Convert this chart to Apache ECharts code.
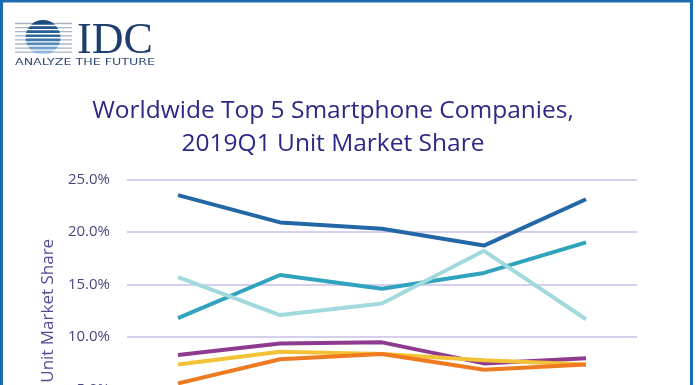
<!DOCTYPE html>
<html>
<head>
<meta charset="utf-8">
<script src="https://cdn.jsdelivr.net/npm/echarts@6/dist/echarts.min.js"></script>
<style>html,body{margin:0;padding:0;background:#fff;}#c{width:696px;height:385px;}</style>
</head>
<body>
<div id="c"></div>
<script>
// ---- data ----
const quarters = ['1Q18', '2Q18', '3Q18', '4Q18', '1Q19'];
const companyNames = ['Samsung', 'Huawei', 'Apple', 'Xiaomi', 'vivo', 'OPPO'];
const samsung = [23.5, 20.9, 20.3, 18.7, 23.1];
const huawei = [11.8, 15.9, 14.6, 16.1, 19.0];
const apple = [15.7, 12.1, 13.2, 18.2, 11.7];
const xiaomi = [8.3, 9.4, 9.5, 7.5, 8.0];
const vivo = [7.4, 8.6, 8.4, 7.8, 7.4];
const oppo = [5.6, 7.9, 8.4, 6.9, 7.4];
const yTicks = [0, 5, 10, 15, 20, 25];

const seriesValues = [samsung, huawei, apple, xiaomi, vivo, oppo];
const colors = ['#2367a7', '#30a4be', '#a2d9dd', '#8e3b8f', '#f4c236', '#ee7b22'];

const chart = echarts.init(document.getElementById('c'), null, {renderer: 'canvas'});

// logo stripes
const logoEls = [];
for (let i = 0; i < 8; i++) {
  const y = 23.5 + i * 4.1;
  logoEls.push({type: 'line', shape: {x1: 15, y1: y, x2: 72, y2: y}, style: {stroke: '#a9b3c4', lineWidth: 1.3}, z: 10});
}
logoEls.push({
  type: 'circle', shape: {cx: 43, cy: 37.5, r: 17.5}, z: 11,
  style: {fill: new echarts.graphic.LinearGradient(0, 0, 0, 1, [
    {offset: 0, color: '#1b4778'}, {offset: 0.5, color: '#2d6aa3'}, {offset: 1, color: '#9cc3e6'}])}
});
for (let i = 0; i < 8; i++) {
  const y = 25.5 + i * 4.1;
  logoEls.push({type: 'line', shape: {x1: 24, y1: y, x2: 62, y2: y}, style: {stroke: '#ffffff', lineWidth: 1.4}, z: 12});
}

const option = {
  backgroundColor: '#ffffff',
  animation: false,
  grid: {left: 127, right: 59, top: 179.3, bottom: -57.3, containLabel: false, outerBoundsMode: 'none'},
  xAxis: {
    type: 'category', data: quarters, boundaryGap: true,
    axisLine: {show: false}, axisTick: {show: false},
    axisLabel: {color: '#48487e', fontFamily: 'Open Sans', fontSize: 15}
  },
  yAxis: {
    type: 'value', min: yTicks[0], max: yTicks[yTicks.length - 1], interval: 5,
    name: 'Unit Market Share', nameLocation: 'middle', nameGap: 68,
    nameTextStyle: {color: '#4d4a96', fontFamily: 'Open Sans', fontSize: 17},
    axisLine: {show: false}, axisTick: {show: false},
    axisLabel: {color: '#48487e', fontFamily: 'Open Sans', fontSize: 15, margin: 17,
      formatter: v => v.toFixed(1) + '%'},
    splitLine: {lineStyle: {color: '#c8c0e6', width: 1.5}}
  },
  series: seriesValues.map((vals, i) => ({
    name: companyNames[i], type: 'line', data: vals, showSymbol: false, symbol: 'none',
    lineStyle: {width: 4, color: colors[i]}, itemStyle: {color: colors[i]}, z: 2
  })),
  graphic: {elements: [
    {type: 'rect', shape: {x: 1.5, y: 1, width: 690, height: 400}, style: {fill: 'none', stroke: '#1b6db2', lineWidth: 3}, z: 20},
    ...logoEls,
    {type: 'text', x: 77, y: 19, z: 13, style: {text: 'IDC', font: '44px "Liberation Serif"', fill: '#1e3f6e', textVerticalAlign: 'top'}},
    {type: 'text', x: 15, y: 58, scaleX: 1.33, z: 13, style: {text: 'ANALYZE THE FUTURE', font: '9.5px "DejaVu Sans"', fill: '#2e4d78'}},
    {type: 'text', x: 333, y: 95, z: 13, style: {
      text: 'Worldwide Top 5 Smartphone Companies,\n2019Q1 Unit Market Share',
      font: '24.5px "Open Sans"', fill: '#2b2985', align: 'center', verticalAlign: 'top', lineHeight: 33}}
  ]}
};
chart.setOption(option);
</script>
</body>
</html>
